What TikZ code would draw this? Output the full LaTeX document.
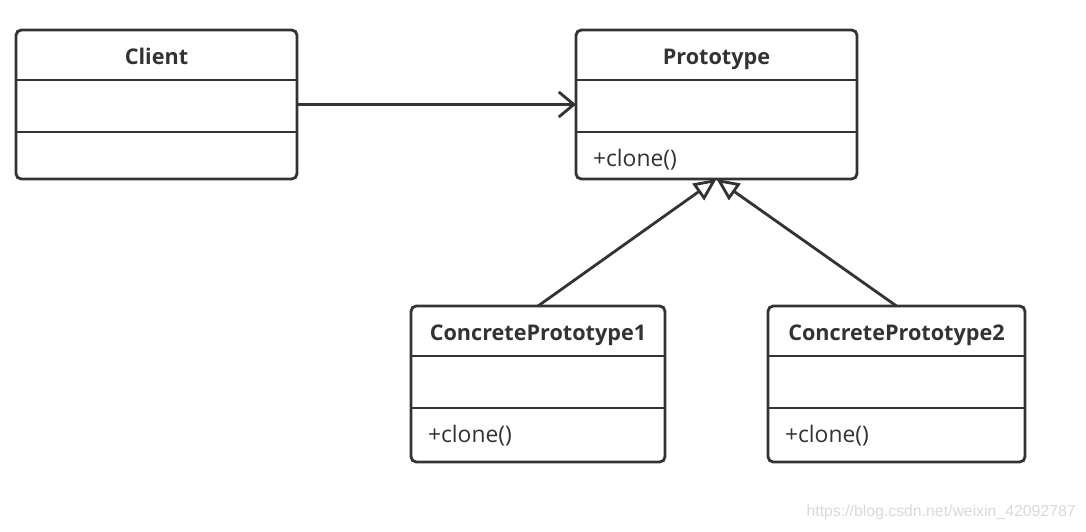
\documentclass[tikz,border=0pt]{standalone}
\usepackage{fontspec}
\setmainfont{Open Sans}
\newfontfamily\urlfont{Liberation Sans}
\usetikzlibrary{arrows.meta,positioning}
\definecolor{umlgray}{HTML}{333333}

\begin{document}
\begin{tikzpicture}[
    classbox/.style={rectangle, draw=umlgray, line width=1.6pt, rounded corners=3pt, fill=white, inner sep=0pt, outer sep=0pt},
    classname/.style={rectangle, inner sep=0pt, outer sep=0pt, minimum height=1cm, text height=1.08em, text depth=0.05em, font=\bfseries\fontsize{12.3}{14}\selectfont, text=umlgray},
    compart/.style={rectangle, inner sep=0pt, outer sep=0pt, minimum height=1.04cm},
    member/.style={rectangle, inner xsep=0.34cm, inner ysep=0pt, outer sep=0pt, minimum height=1.1cm, text height=0.84em, text depth=0.05em, font=\fontsize{13}{15}\selectfont, text=umlgray},
    divider/.style={draw=umlgray, line width=1.6pt},
    assoc/.style={draw=umlgray, line width=1.6pt, -{Straight Barb[length=0.3cm, width=0.5cm, line width=1.6pt]}},
    inherit/.style={draw=umlgray, line width=1.6pt, -{Triangle[open, length=0.45cm, width=0.4cm, line width=1.6pt]}},
    watermark/.style={inner sep=0pt, font=\urlfont\fontsize{9}{11}\selectfont, text=black!15}
]
\useasboundingbox (0,0) rectangle (21.72,-10.62);

% Client class
\node[classbox, minimum width=5.62cm, minimum height=2.98cm] (client) at (3.13,-2.09) {};
\node[classname, below=0pt of client.north] (client-name) {Client};
\node[compart, minimum width=5.62cm, below=0pt of client-name] (client-attr) {};
\draw[divider] (client-attr.north west) -- (client-attr.north east);
\draw[divider] (client-attr.south west) -- (client-attr.south east);

% Prototype class
\node[classbox, minimum width=5.62cm, minimum height=2.98cm] (proto) at (14.33,-2.09) {};
\node[classname, below=0pt of proto.north] (proto-name) {Prototype};
\node[compart, minimum width=5.62cm, below=0pt of proto-name] (proto-attr) {};
\node[member, below right=0pt and 0pt of proto-attr.south west] (proto-op) {+clone()};
\draw[divider] (proto-attr.north west) -- (proto-attr.north east);
\draw[divider] (proto-attr.south west) -- (proto-attr.south east);

% Concrete prototypes
\node[classbox, minimum width=5.08cm, minimum height=3.12cm] (cp1) at (10.76,-7.68) {};
\node[classname, below=0pt of cp1.north] (cp1-name) {ConcretePrototype1};
\node[compart, minimum width=5.08cm, below=0pt of cp1-name] (cp1-attr) {};
\node[member, below right=0pt and 0pt of cp1-attr.south west] (cp1-op) {+clone()};
\draw[divider] (cp1-attr.north west) -- (cp1-attr.north east);
\draw[divider] (cp1-attr.south west) -- (cp1-attr.south east);

\node[classbox, minimum width=5.14cm, minimum height=3.12cm] (cp2) at (17.93,-7.68) {};
\node[classname, below=0pt of cp2.north] (cp2-name) {ConcretePrototype2};
\node[compart, minimum width=5.14cm, below=0pt of cp2-name] (cp2-attr) {};
\node[member, below right=0pt and 0pt of cp2-attr.south west] (cp2-op) {+clone()};
\draw[divider] (cp2-attr.north west) -- (cp2-attr.north east);
\draw[divider] (cp2-attr.south west) -- (cp2-attr.south east);

% Connections
\draw[assoc] (client.east) -- (proto.west);
\draw[inherit] (cp1.north) -- (proto.south);
\draw[inherit] (cp2.north) -- (proto.south);

% Watermark
\node[watermark, anchor=east] (url) at (21.52,-10.24) {https://blog.csdn.net/weixin\_42092787};

\end{tikzpicture}
\end{document}
